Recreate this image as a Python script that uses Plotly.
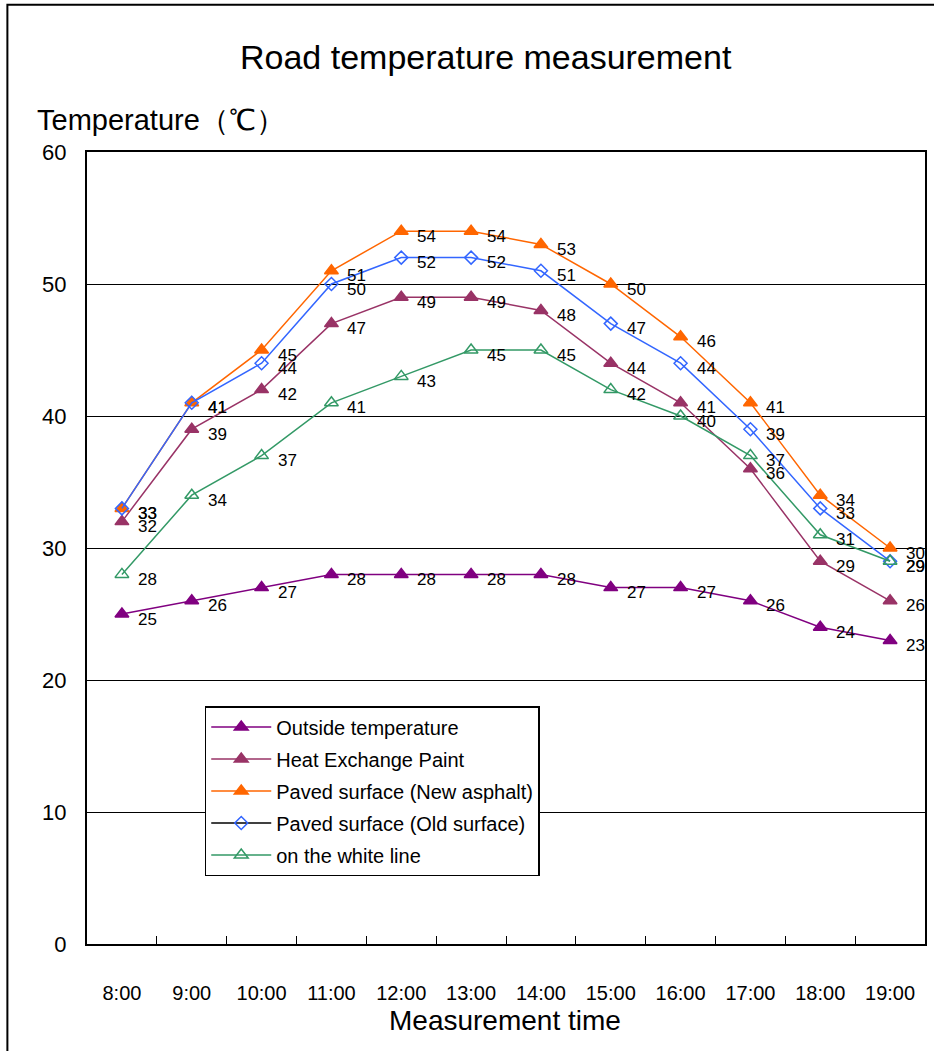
import plotly.graph_objects as go

times = ["8:00", "9:00", "10:00", "11:00", "12:00", "13:00", "14:00",
         "15:00", "16:00", "17:00", "18:00", "19:00"]
outside = [25, 26, 27, 28, 28, 28, 28, 27, 27, 26, 24, 23]
heat_paint = [32, 39, 42, 47, 49, 49, 48, 44, 41, 36, 29, 26]
new_asphalt = [33, 41, 45, 51, 54, 54, 53, 50, 46, 41, 34, 30]
old_surface = [33, 41, 44, 50, 52, 52, 51, 47, 44, 39, 33, 29]
white_line = [28, 34, 37, 41, 43, 45, 45, 42, 40, 37, 31, 29]

series = [
    ("Outside temperature", outside, "#800080", "triangle-up", 12, None),
    ("Heat Exchange Paint", heat_paint, "#993366", "triangle-up", 12, None),
    ("Paved surface (New asphalt)", new_asphalt, "#FF6600", "triangle-up", 12, None),
    ("Paved surface (Old surface)", old_surface, "#3366FF", "diamond-open", 10, "black"),
    ("on the white line", white_line, "#339966", "triangle-up-open", 12, None),
]

FONT = "Liberation Sans"
fig = go.Figure()
annotations = []
for rank, (name, vals, color, sym, size, legend_line) in enumerate(series):
    marker = dict(symbol=sym, size=size, color=color,
                  line=dict(color=color, width=1.5))
    fig.add_trace(go.Scatter(
        x=times, y=vals, name=name, mode="lines+markers",
        line=dict(color=color, width=1.5), marker=marker,
        legendgroup=name, legendrank=rank + 1,
        showlegend=legend_line is None,
    ))
    if legend_line is not None:
        # legend entry as drawn in the reference (black line, blue diamond)
        fig.add_trace(go.Scatter(
            x=[None], y=[None], name=name, mode="lines+markers",
            line=dict(color=legend_line, width=1.5), marker=marker,
            legendgroup=name, legendrank=rank + 1, showlegend=True))
    for t, v in zip(times, vals):
        annotations.append(dict(
            x=t, y=v, xref="x", yref="y", text=str(v), showarrow=False,
            xanchor="left", yanchor="middle", xshift=14, yshift=-5,
            font=dict(family=FONT, size=17, color="black")))

annotations.append(dict(
    x=-0.062, y=1.04, xref="paper", yref="paper", text="Temperature（℃）",
    showarrow=False, xanchor="left", yanchor="middle",
    font=dict(family=FONT, size=29, color="black")))
annotations.append(dict(
    x=0.499, y=-0.097, xref="paper", yref="paper", text="Measurement time",
    showarrow=False, xanchor="center", yanchor="middle",
    font=dict(family=FONT, size=28, color="black")))

fig.update_layout(
    width=934, height=1051,
    margin=dict(l=87, r=7, t=152, b=107),
    paper_bgcolor="white", plot_bgcolor="white",
    font=dict(family=FONT, color="black"),
    title=dict(text="Road temperature measurement", x=0.52, xanchor="center",
               y=1 - 57 / 1051, yanchor="middle",
               font=dict(family=FONT, size=34, color="black")),
    showlegend=True,
    legend=dict(x=0.1405, y=0.3005, xanchor="left", yanchor="top",
                bordercolor="black", borderwidth=1.5, bgcolor="white",
                font=dict(family=FONT, size=20, color="black"),
                itemwidth=60, tracegroupgap=3, traceorder="grouped"),
    annotations=annotations,
    shapes=[dict(type="rect", xref="paper", yref="paper",
                 x0=-0.095, x1=1.05, y0=-0.2, y1=1.186,
                 line=dict(color="black", width=2), fillcolor="rgba(0,0,0,0)")],
)

fig.update_xaxes(
    type="category", range=[-0.5, 11.5], showgrid=False,
    showline=True, linecolor="black", linewidth=2, mirror=True,
    ticks="inside", tickson="boundaries", ticklen=8, tickcolor="black",
    tickwidth=1, ticklabelstandoff=30,
    tickfont=dict(family=FONT, size=20, color="black"))
fig.update_yaxes(
    range=[0, 60], dtick=10, showgrid=True, gridcolor="black", gridwidth=1.2,
    showline=True, linecolor="black", linewidth=2, mirror=True,
    ticks="", ticklabelstandoff=14, zeroline=False,
    tickfont=dict(family=FONT, size=22, color="black"))

fig.write_html("out.html")
